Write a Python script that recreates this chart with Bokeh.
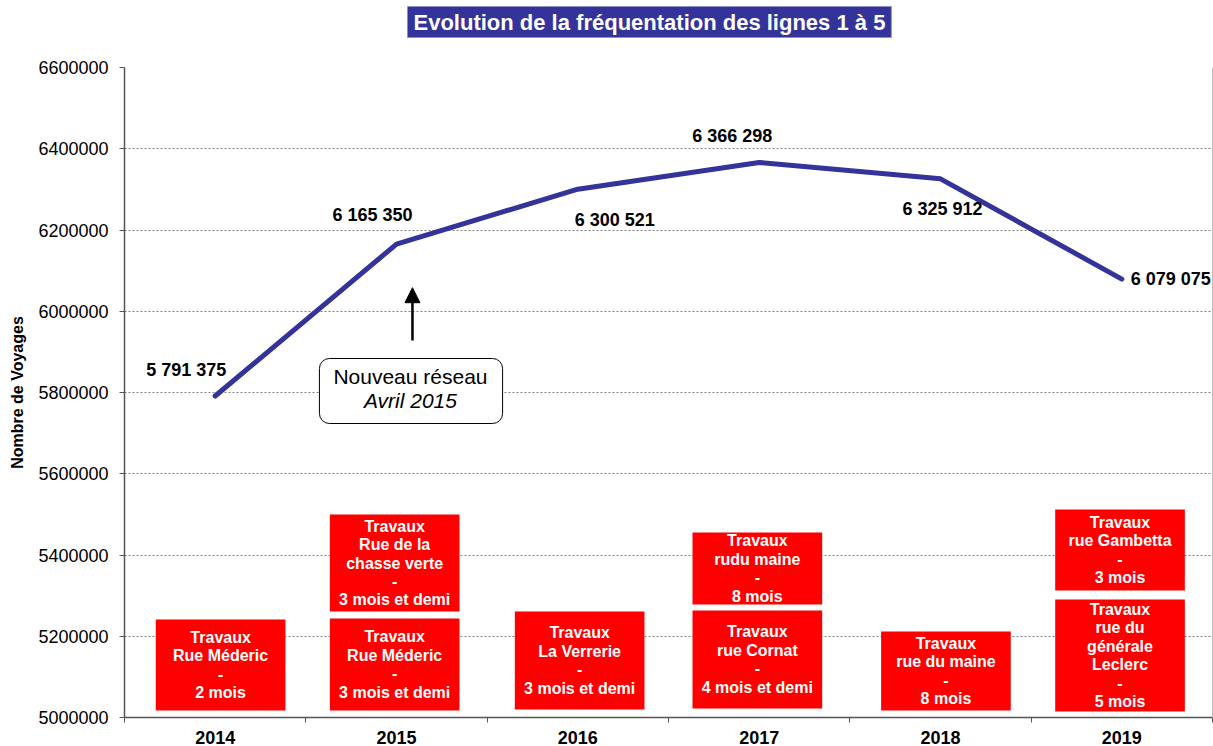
from bokeh.plotting import figure
from bokeh.models import (ColumnDataSource, Range1d, FixedTicker, BasicTickFormatter,
                          LabelSet, Label, BoxAnnotation, Arrow, NormalHead, Span, Title)
from bokeh.core.properties import value
from bokeh.embed import file_html
from bokeh.resources import INLINE

FONT = "Liberation Sans"

# ---------------- data ----------------
years = ["2014", "2015", "2016", "2017", "2018", "2019"]
voyages = [5791375, 6165350, 6300521, 6366298, 6325912, 6079075]
y_ticks = [5000000, 5200000, 5400000, 5600000, 5800000, 6000000, 6200000, 6400000, 6600000]

travaux_year = ["2014", "2015", "2015", "2016", "2017", "2017", "2018", "2019", "2019"]
travaux_text = [
    "Travaux\nRue Méderic\n-\n2 mois",
    "Travaux\nRue Méderic\n-\n3 mois et demi",
    "Travaux\nRue de la\nchasse verte\n-\n3 mois et demi",
    "Travaux\nLa Verrerie\n-\n3 mois et demi",
    "Travaux\nrue Cornat\n-\n4 mois et demi",
    "Travaux\nrudu maine\n-\n8 mois",
    "Travaux\nrue du maine\n-\n8 mois",
    "Travaux\nrue du\ngénérale\nLeclerc\n-\n5 mois",
    "Travaux\nrue Gambetta\n-\n3 mois",
]

# ---------------- layout (positions of boxes / labels) ----------------
travaux_top = [5241000, 5243700, 5499700, 5260900, 5263400, 5455400, 5211700, 5290500, 5512000]
travaux_bottom = [5017000, 5017200, 5260900, 5019700, 5022200, 5278200, 5017200, 5014800, 5312600]
travaux_dx = [0.03, -0.01, -0.01, 0.01, -0.01, -0.01, 0.03, -0.01, -0.01]
box_width = 0.715

label_dx = [-29, -24, 37, -27, 2, 49]
label_dy = [26, 29, -31, 26, -30, 0]

# ---------------- derived ----------------
xs = [i + 1 for i in range(len(years))]
bounds = [i + 0.5 for i in range(len(years) + 1)]
year_pos = {y: i + 1 for i, y in enumerate(years)}

tx = [year_pos[y] + d for y, d in zip(travaux_year, travaux_dx)]
ty = [(t + b) / 2 for t, b in zip(travaux_top, travaux_bottom)]

p = figure(width=1213, height=746, output_backend="svg", toolbar_location=None,
           x_range=Range1d(0.5, 6.5), y_range=Range1d(5000000, 6600000),
           min_border_left=124, min_border_right=1, min_border_top=67, min_border_bottom=29)
p.outline_line_color = None
p.background_fill_color = "white"
p.border_fill_color = "white"
p.title.text = ""

# spacer between frame and title, then the title itself
p.add_layout(Title(text=" ", text_font_size="1px", standoff=27), "above")
p.add_layout(Title(text="Evolution de la fréquentation des lignes 1 à 5",
                   text_font=FONT, text_font_size="22px", text_font_style="bold",
                   text_color="white", align="left", offset=283, standoff=0,
                   background_fill_color="#333399", border_line_color="#9090c8",
                   border_line_width=1, padding=(6, 3)), "above")

# grid
p.xgrid.visible = False
p.ygrid.ticker = FixedTicker(ticks=y_ticks[1:-1])
p.ygrid.grid_line_color = "#7f7f7f"
p.ygrid.grid_line_dash = "2 2"
p.ygrid.grid_line_width = 1

# y axis
p.yaxis.ticker = FixedTicker(ticks=y_ticks)
p.yaxis.formatter = BasicTickFormatter(use_scientific=False)
p.yaxis.major_tick_out = 5
p.yaxis.major_tick_in = 0
p.yaxis.minor_tick_line_color = None
p.yaxis.axis_line_color = "#555555"
p.yaxis.axis_line_width = 1.5
p.yaxis.major_tick_line_color = "#555555"
p.yaxis.major_label_text_font = FONT
p.yaxis.major_label_text_font_size = "18px"
p.yaxis.major_label_text_color = "black"
p.yaxis.major_label_standoff = 11
p.yaxis.axis_label = "Nombre de Voyages"
p.yaxis.axis_label_text_font = FONT
p.yaxis.axis_label_text_font_size = "16px"
p.yaxis.axis_label_text_font_style = "bold"
p.yaxis.axis_label_text_color = "black"
p.yaxis.axis_label_standoff = 9

# x axis
p.xaxis.ticker = FixedTicker(ticks=xs, minor_ticks=bounds)
p.xaxis.major_label_overrides = {x: y for x, y in zip(xs, years)}
p.xaxis.major_tick_out = 0
p.xaxis.major_tick_in = 0
p.xaxis.minor_tick_out = 5
p.xaxis.minor_tick_in = 0
p.xaxis.minor_tick_line_color = "#555555"
p.xaxis.axis_line_color = "#555555"
p.xaxis.axis_line_width = 1.5
p.xaxis.major_label_text_font = FONT
p.xaxis.major_label_text_font_size = "18px"
p.xaxis.major_label_text_font_style = "bold"
p.xaxis.major_label_text_color = "black"
p.xaxis.major_label_standoff = 8

p.add_layout(Span(location=6.5, dimension="height", line_color="#7f7f7f", line_width=1))

# red boxes
p.quad(left=[x - box_width / 2 for x in tx], right=[x + box_width / 2 for x in tx],
       top=travaux_top, bottom=travaux_bottom, fill_color="#FF0000", line_color=None)
p.text(x=tx, y=ty, text=travaux_text, text_font=value(FONT), text_font_style="bold",
       text_font_size="16px", text_color="white", text_align="center",
       text_baseline="middle", text_line_height=1.08)

# line
p.line(xs, voyages, line_width=5, line_color="#333399", line_cap="round", line_join="round")

# data labels
src = ColumnDataSource(dict(
    x=xs, y=voyages,
    t=[f"{v:,}".replace(",", " ") for v in voyages],
    dx=label_dx, dy=label_dy))
p.add_layout(LabelSet(x="x", y="y", text="t", source=src, x_offset="dx", y_offset="dy",
                      text_font=value(FONT), text_font_size="18px", text_font_style="bold",
                      text_color="black", text_align="center", text_baseline="middle"))

# annotation "Nouveau réseau"
p.add_layout(BoxAnnotation(left=1.575, right=2.585, top=5883700, bottom=5723700,
                           fill_color="white", fill_alpha=1, line_color="black",
                           line_alpha=1, line_width=1, border_radius=10))
p.add_layout(Label(x=2.077, y=5839400, text="Nouveau réseau", text_font=FONT,
                   text_font_size="21px", text_color="black", text_align="center",
                   text_baseline="middle"))
p.add_layout(Label(x=2.077, y=5780300, text="Avril 2015", text_font=FONT,
                   text_font_size="21px", text_font_style="italic", text_color="black",
                   text_align="center", text_baseline="middle"))
p.add_layout(Arrow(end=NormalHead(size=15, fill_color="black", line_color="black"),
                   x_start=2.088, y_start=5928000, x_end=2.088, y_end=6058000,
                   line_width=2.5, line_color="black"))

open("out.html", "w").write(file_html(p, INLINE))
